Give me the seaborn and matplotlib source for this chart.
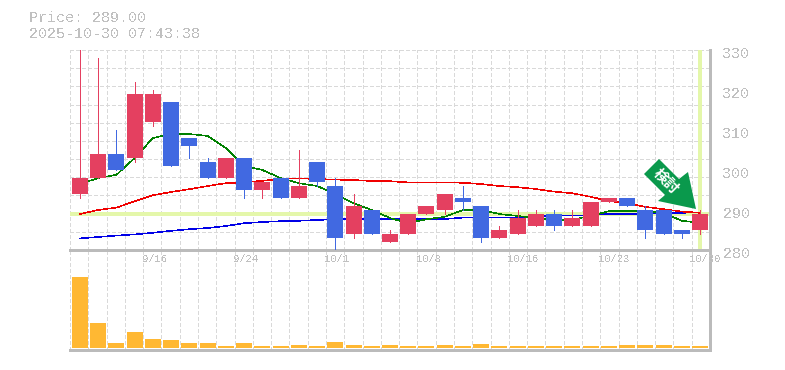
import numpy as np
import pandas as pd
import seaborn as sns
import matplotlib.pyplot as plt
from matplotlib.patches import Polygon
from matplotlib.transforms import ScaledTranslation

dates = ['9/16', '9/24', '10/1', '10/8', '10/16', '10/23', '10/30']
date_pos = [4, 9, 14, 19, 24, 29, 34]
price_ticks = [280, 290, 300, 310, 320, 330]

opens = [294, 298, 304, 303, 312, 317, 308, 302, 298, 303, 295, 298, 293, 302, 296, 284, 290, 282,
         284, 289, 290, 293, 291, 283, 284, 286, 289, 286, 286, 292, 293, 290, 290, 285, 285]
closes = [298, 304, 300, 319, 319, 301, 306, 298, 303, 295, 297, 293, 296, 297, 283, 291, 284, 284,
          289, 291, 294, 292, 283, 285, 288, 289, 286, 288, 292, 293, 291, 285, 284, 284, 289]
highs = [345, 328, 310, 322, 320, 317, 308, 303, 303, 303, 297, 298, 305, 302, 298, 294, 290, 285,
         289, 291, 294, 296, 291, 286, 290, 290, 290, 290, 292, 293, 293, 291, 290, 285, 290]
lows = [293, 298, 300, 302, 311, 301, 303, 298, 298, 293, 293, 293, 293, 296, 280, 283, 284, 282,
        284, 289, 289, 290, 282, 283, 284, 286, 285, 286, 286, 292, 291, 283, 284, 283, 284]

ma_short = [296.5, 298, 298.8, 303, 308, 309, 309, 308.5, 305.5, 301, 300, 298, 296.7, 296, 294,
            291.7, 290, 288, 286.7, 287.7, 288.3, 290, 290, 289, 288.5, 288, 287.4, 287.6, 288.5,
            289.7, 289.8, 289.8, 289.3, 287.3, 286.8]
ma_mid = [289, 290, 290.6, 292.2, 293.7, 294.5, 295.2, 296, 296.7, 296.9, 297.3, 297.8, 297.9,
          297.75, 297.6, 297.5, 297.25, 297.2, 296.9, 296.9, 296.9, 296.8, 296.5, 296, 295.7, 295.25,
          294.6, 294.2, 293.3, 292.25, 291.7, 290.8, 290.2, 289.6, 289.3]
ma_long = [282.9, 283.25, 283.6, 283.9, 284.3, 284.8, 285.2, 285.5, 286, 286.7, 287, 287.2, 287.3,
           287.5, 287.7, 287.75, 287.75, 287.75, 287.75, 287.75, 287.75, 288.1, 288.1, 288.1, 288.1,
           288.5, 288.6, 288.6, 288.7, 289, 289, 289.1, 289.2, 289.3, 289.4]
volume = [71, 25, 5, 16, 9, 8, 5, 5, 2, 5, 2, 2, 3, 2, 6, 3, 2, 3,
          2, 2, 3, 2, 4, 2, 2, 2, 2, 2, 2, 2, 3, 3, 3, 2, 2]

last_price = 289.00
timestamp = '2025-10-30 07:43:38'

UP = '#e44060'
DOWN = '#4169e1'
TEXT = '#c0c0c0'
EDGE = '#bbbbbb'
MARK = '#e4f7aa'
W, H = 785, 370

sns.set_style('white')
plt.rcParams.update({
    'font.family': ['Liberation Mono', 'DejaVu Sans'],
    'text.antialiased': False,
    'lines.antialiased': False,
    'patch.antialiased': False,
    'lines.scale_dashes': False,
})

df = pd.DataFrame({'i': range(len(opens)), 'open': opens, 'close': closes, 'high': highs, 'low': lows,
                   'short': ma_short, 'mid': ma_mid, 'long': ma_long, 'volume': volume})

fig = plt.figure(figsize=(W / 100, H / 100), dpi=100)
ax_vol = fig.add_axes([70 / W, 1 - 350 / H, 640 / W, 100 / H])
ax = fig.add_axes([70 / W, 1 - 250 / H, 640 / W, 200 / H])
ax_vol.patch.set_visible(False)

# candle centres run a little tighter than the grid cells
x_range = (-0.548, 34.55)
edges = np.linspace(x_range[0], x_range[1], len(df) + 1)
for a in (ax, ax_vol):
    a.set_xlim(*x_range)
    a.set_xticks(edges)
    a.tick_params(axis='both', which='both', length=0, labelbottom=False, labelleft=False)
    a.grid(True, color='#d9d9d9', lw=0.6, linestyle=(0, (2.4, 2.0)))
    a.set_axisbelow(True)
    for s in a.spines.values():
        s.set_visible(False)
    a.spines['bottom'].set_visible(True)
    a.spines['right'].set_visible(True)
    a.spines['bottom'].set_color(EDGE)
    a.spines['right'].set_color(EDGE)
    a.spines['bottom'].set_linewidth(1.0)
    a.spines['right'].set_linewidth(1.0)

ax.set_ylim(280, 330)
ax.set_yticks(np.linspace(280, 330, 12))
ax.yaxis.remove_overlapping_locs = False

ax.axhline(last_price, color=MARK, lw=1.7, zorder=1)
ax.plot([df['i'].iloc[-1]] * 2, [280.5, 330], color=MARK, lw=1.7, zorder=1)

sns.lineplot(data=df, x='i', y='long', color='#0000e6', lw=0.4, ax=ax, antialiased=False, zorder=2)
sns.lineplot(data=df, x='i', y='mid', color='#f00000', lw=0.4, ax=ax, antialiased=False, zorder=2)
sns.lineplot(data=df, x='i', y='short', color='#008000', lw=0.4, ax=ax, antialiased=False, zorder=2)

colors = [UP if c >= o else DOWN for o, c in zip(opens, closes)]
ax.vlines(df['i'], df['low'], df['high'], colors=colors, lw=0.72, antialiased=False, zorder=3)
ax.bar(df['i'], (df['close'] - df['open']).abs(), bottom=df[['open', 'close']].min(axis=1),
       width=16 / 18.235, color=colors, linewidth=0, zorder=4)

ax.set_xlabel('')
ax.set_ylabel('')

# price labels on the right sit a bit below their level
ax.yaxis.tick_right()
ax.set_yticks(price_ticks, [str(v) for v in price_ticks], minor=True)
ax.tick_params(axis='y', which='minor', labelright=True, labelleft=False, length=0, pad=9,
               labelsize=10.8, labelcolor=TEXT)
ax.tick_params(axis='y', which='major', labelright=False, length=0)
down = ScaledTranslation(0, -3 / 100, fig.dpi_scale_trans)
for lab in ax.get_yticklabels(minor=True):
    lab.set_transform(lab.get_transform() + down)

ax.set_xticks(date_pos, dates, minor=True)
ax.tick_params(axis='x', which='minor', labelbottom=True, length=0, pad=3, labelsize=7.6, labelcolor=TEXT)
left = ScaledTranslation(-10.5 / 100, 0, fig.dpi_scale_trans)
for lab in ax.get_xticklabels(minor=True):
    lab.set_ha('left')
    lab.set_transform(lab.get_transform() + left)

sns.barplot(data=df, x='i', y='volume', native_scale=True, color='#ffb833', saturation=1, width=16 / 18.235,
            ax=ax_vol, zorder=3, linewidth=0)
ax_vol.set_xlim(*x_range)
ax_vol.set_xticks(edges)
ax_vol.set_ylim(-2, 98)
ax_vol.set_yticks([])
ax_vol.set_xlabel('')
ax_vol.set_ylabel('')
ax_vol.tick_params(axis='x', which='both', labelbottom=False, length=0)

fig.text(29 / W, 1 - 18.5 / H, f'Price: {last_price:.2f}', color=TEXT, fontsize=10.8, va='center')
fig.text(29 / W, 1 - 33.5 / H, timestamp, color=TEXT, fontsize=10.8, va='center')

# signal arrow, placed in figure pixels
arrow_px = [(659, 159), (644, 174), (665, 195), (658, 201), (696, 209), (688, 172), (679, 179)]
arrow = Polygon([(x / W, 1 - y / H) for x, y in arrow_px], closed=True, transform=fig.transFigure,
                facecolor='#0a994c', edgecolor='none', zorder=10, antialiased=True)
fig.add_artist(arrow)
fig.text(666.5 / W, 1 - 181 / H, '検討', color='white', fontsize=10.5, fontweight='bold', rotation=-45,
         ha='center', va='center', rotation_mode='anchor', zorder=11, antialiased=True,
         family=['Noto Sans CJK JP', 'DejaVu Sans'])

fig.savefig('out.png', dpi=100)
